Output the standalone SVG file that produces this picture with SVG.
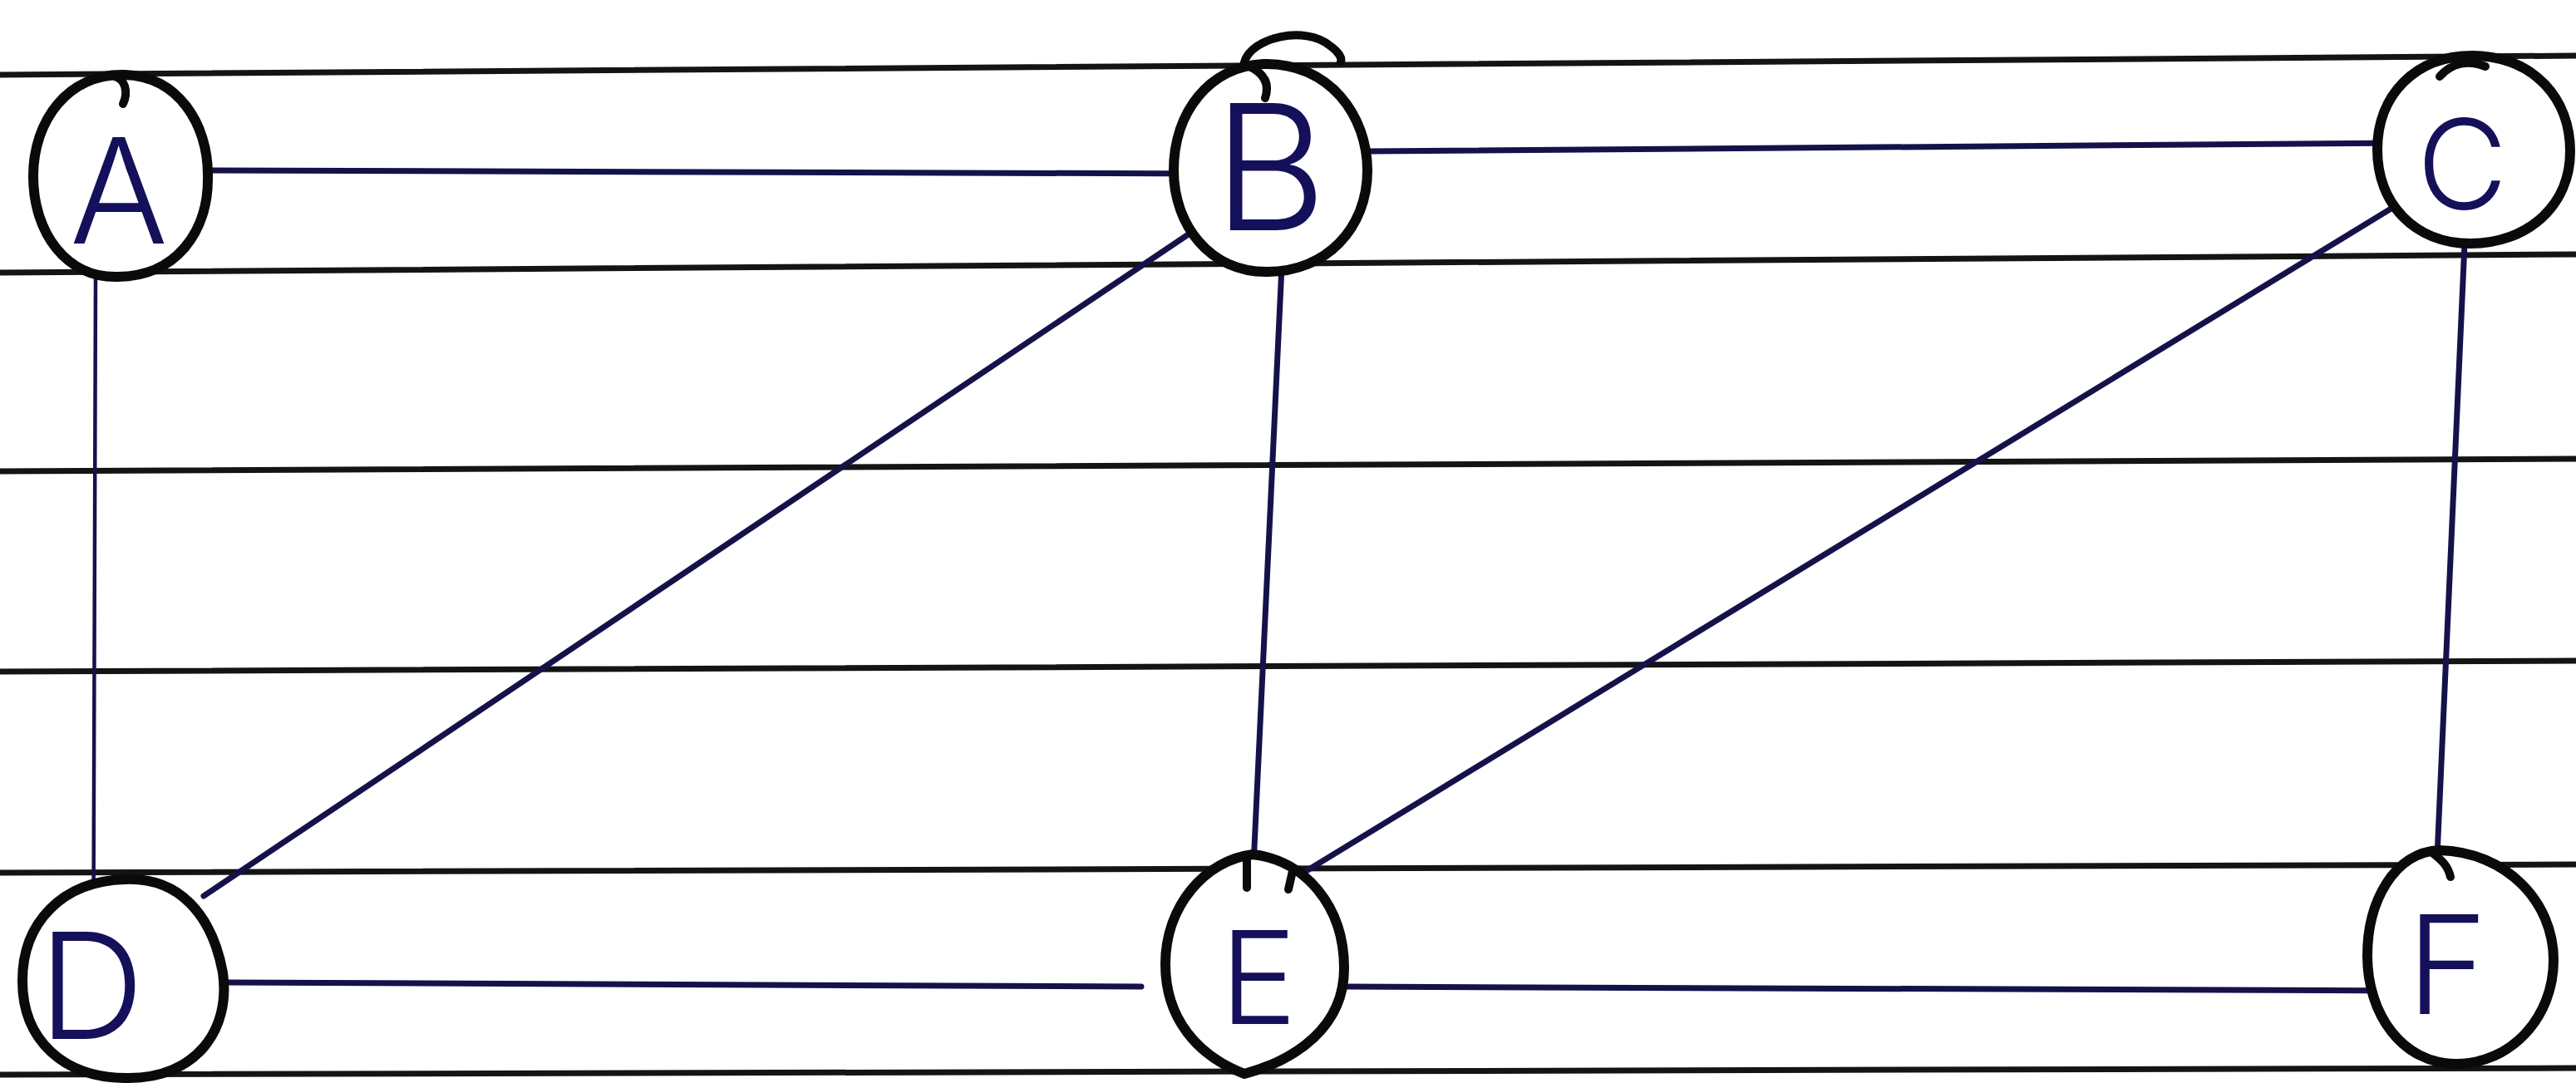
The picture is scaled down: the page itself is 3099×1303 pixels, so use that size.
<svg xmlns="http://www.w3.org/2000/svg" width="3099" height="1303" viewBox="0 0 3099 1303">
  <style>
    .rule { stroke: #141414; stroke-width: 7; fill: none; stroke-linecap: round; }
    .edge { stroke: #15124a; stroke-width: 7; fill: none; stroke-linecap: round; }
    .thin { stroke-width: 4.5; }
    .ring { stroke: #0a0a0a; stroke-width: 12; fill: #ffffff; stroke-linejoin: round; }
    .pen { stroke: #0a0a0a; stroke-width: 10; fill: none; stroke-linecap: round; }
    .lbl { font-family: "Inter", "Liberation Sans", sans-serif; font-weight: 300; fill: #14105a; text-anchor: middle; }
  </style>
  <rect width="3099" height="1303" fill="#ffffff"/>

  <!-- ruled notebook paper -->
  <g id="paper">
    <line class="rule" x1="0" y1="90" x2="3099" y2="67"/>
    <line class="rule" x1="0" y1="328" x2="3099" y2="306"/>
    <line class="rule" x1="0" y1="567" x2="3099" y2="552"/>
    <line class="rule" x1="0" y1="808" x2="3099" y2="795"/>
    <line class="rule" x1="0" y1="1050" x2="3099" y2="1040"/>
    <line class="rule" x1="0" y1="1293" x2="3099" y2="1285"/>
  </g>

  <!-- edges -->
  <g id="connectors">
    <line class="edge" x1="250" y1="205" x2="1460" y2="209"/>
    <line class="edge" x1="1647" y1="182" x2="2897" y2="172"/>
    <line class="edge thin" x1="115" y1="333" x2="112" y2="1247"/>
    <line class="edge" x1="1437" y1="277" x2="245" y2="1078"/>
    <line class="edge" x1="1542" y1="320" x2="1507" y2="1062"/>
    <line class="edge" x1="2883" y1="247" x2="1573" y2="1047"/>
    <line class="edge" x1="2965" y1="293" x2="2932" y2="1030"/>
    <line class="edge" x1="270" y1="1182" x2="1373" y2="1187"/>
    <line class="edge" x1="1617" y1="1187" x2="2893" y2="1192"/>
  </g>

  <g id="node-A">
    <path class="ring" d="M150 90 C215 92 250 150 250 210 C252 280 210 333 142 333 C80 335 40 280 40 212 C40 145 82 88 150 90 Z"/>
    <path class="pen" d="M138 92 C150 95 155 110 148 125"/>
    <text class="lbl" x="143" y="293" font-size="176">A</text>
  </g>

  <g id="node-B">
    <path class="ring" d="M1520 77 C1600 75 1645 140 1645 205 C1645 275 1595 327 1525 327 C1455 328 1412 270 1412 205 C1412 135 1455 80 1520 77 Z"/>
    <path class="pen" d="M1497 75 C1505 45 1570 30 1600 55 C1610 62 1615 70 1613 74"/>
    <path class="pen" d="M1503 80 C1520 88 1528 100 1522 118"/>
    <text class="lbl" x="1528" y="277" font-size="210">B</text>
  </g>

  <g id="node-C">
    <path class="ring" d="M2975 67 C3050 68 3092 120 3092 182 C3092 248 3040 293 2972 293 C2905 293 2860 245 2860 180 C2860 115 2905 67 2975 67 Z"/>
    <path class="pen" d="M2935 92 C2950 75 2970 72 2990 80"/>
    <text class="lbl" x="2962" y="252" font-size="150">C</text>
  </g>

  <g id="node-D">
    <path class="ring" d="M150 1058 C215 1055 255 1100 268 1170 C278 1240 235 1297 155 1297 C75 1298 27 1250 27 1180 C27 1110 75 1060 150 1058 Z"/>
    <text class="lbl" x="110" y="1250" font-size="177">D</text>
  </g>

  <g id="node-E">
    <path class="ring" d="M1507 1028 C1570 1035 1617 1090 1617 1165 C1617 1235 1560 1275 1497 1292 C1440 1270 1402 1225 1402 1160 C1402 1090 1450 1035 1507 1028 Z"/>
    <path class="pen" d="M1500 1035 L1500 1068"/>
    <path class="pen" d="M1555 1048 L1550 1070"/>
    <text class="lbl" x="1514" y="1232" font-size="156">E</text>
  </g>

  <g id="node-F">
    <path class="ring" d="M2935 1023 C3015 1025 3072 1085 3072 1155 C3072 1225 3020 1280 2955 1280 C2890 1280 2848 1220 2848 1150 C2848 1085 2880 1025 2935 1023 Z"/>
    <path class="pen" d="M2925 1025 C2938 1035 2945 1042 2948 1055"/>
    <text class="lbl" x="2944" y="1220" font-size="165">F</text>
  </g>
</svg>
